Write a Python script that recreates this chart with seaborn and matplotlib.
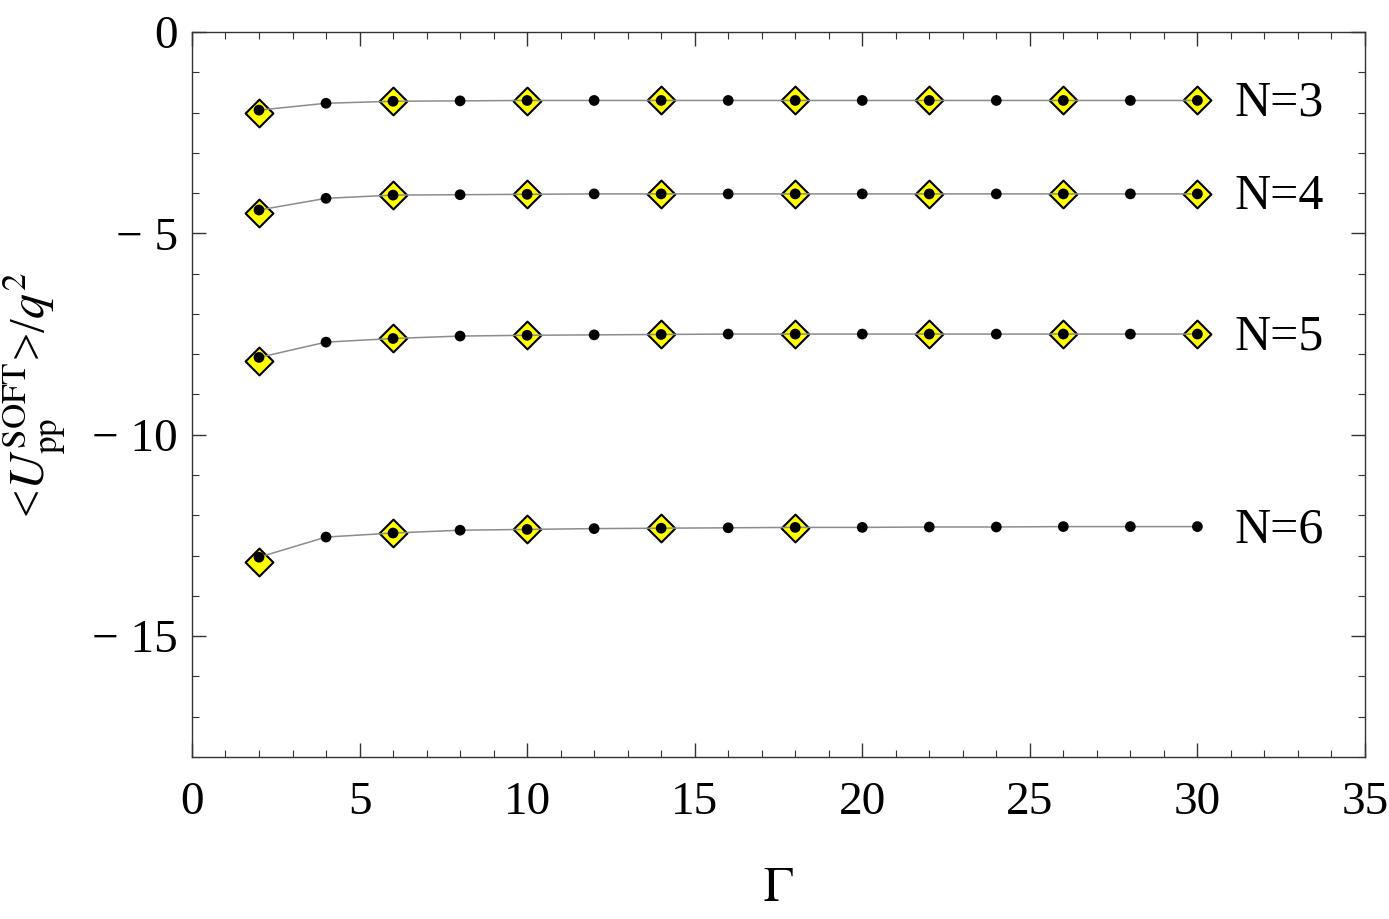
import numpy as np
import pandas as pd
import matplotlib
matplotlib.use("Agg")
import matplotlib.pyplot as plt
from matplotlib.ticker import MultipleLocator, FuncFormatter
import seaborn as sns

# Gamma values for the black dots (every 2) and the yellow diamonds (every 4)
gamma_dots = [2, 4, 6, 8, 10, 12, 14, 16, 18, 20, 22, 24, 26, 28, 30]
gamma_diam = [2, 6, 10, 14, 18, 22, 26, 30]
gamma_diam_n6 = [2, 6, 10, 14, 18]

# <U_pp^SOFT>/q^2
n3_dots = [-1.94, -1.77, -1.72, -1.71, -1.70, -1.70, -1.70, -1.70, -1.70, -1.70, -1.70, -1.70, -1.70, -1.70, -1.70]
n4_dots = [-4.42, -4.13, -4.05, -4.04, -4.03, -4.02, -4.02, -4.02, -4.02, -4.02, -4.02, -4.02, -4.02, -4.02, -4.02]
n5_dots = [-8.08, -7.70, -7.61, -7.55, -7.53, -7.52, -7.51, -7.50, -7.50, -7.50, -7.50, -7.50, -7.50, -7.50, -7.50]
n6_dots = [-13.04, -12.54, -12.44, -12.37, -12.35, -12.33, -12.32, -12.31, -12.30, -12.30, -12.29, -12.29, -12.28, -12.28, -12.28]

n3_diam = [-2.00, -1.72, -1.71, -1.70, -1.70, -1.70, -1.70, -1.70]
n4_diam = [-4.50, -4.05, -4.03, -4.02, -4.02, -4.02, -4.02, -4.02]
n5_diam = [-8.18, -7.61, -7.53, -7.51, -7.50, -7.50, -7.50, -7.50]
n6_diam = [-13.17, -12.45, -12.35, -12.32, -12.31]

labels = ["N=3", "N=4", "N=5", "N=6"]

dots = pd.concat([
    pd.DataFrame({"Gamma": gamma_dots, "U": v, "N": lab})
    for v, lab in zip([n3_dots, n4_dots, n5_dots, n6_dots], labels)
])
diam = pd.concat([
    pd.DataFrame({"Gamma": g, "U": v, "N": lab})
    for g, v, lab in zip([gamma_diam, gamma_diam, gamma_diam, gamma_diam_n6],
                         [n3_diam, n4_diam, n5_diam, n6_diam], labels)
])

sns.set_theme(style="ticks")
plt.rcParams["font.family"] = ["Liberation Serif", "DejaVu Serif"]
plt.rcParams["mathtext.fontset"] = "stix"
plt.rcParams["text.color"] = "black"
plt.rcParams["axes.labelcolor"] = "black"

fig = plt.figure(figsize=(13.89, 9.19), dpi=100)
ax = fig.add_axes([0.1382, 0.1763, 0.8445, 0.7889])

# yellow diamonds underneath
sns.scatterplot(data=diam, x="Gamma", y="U", marker="D", s=200, color="#ffff00",
                edgecolor="black", linewidth=1.5, ax=ax, zorder=2, legend=False)

# gray lines with black dots on top
for lab in labels:
    sub = dots[dots["N"] == lab]
    sns.lineplot(data=sub, x="Gamma", y="U", color="#8c8c8c", linewidth=1.1,
                 ax=ax, zorder=3, legend=False)
    sns.scatterplot(data=sub, x="Gamma", y="U", color="black", s=60,
                    edgecolor="none", ax=ax, zorder=4, legend=False)
    ax.text(31.1, sub["U"].iloc[-1] - 0.08, lab, fontsize=36, ha="left", va="center")

ax.set_xlim(0, 35)
ax.set_ylim(-18, 0)
ax.xaxis.set_major_locator(MultipleLocator(5))
ax.xaxis.set_minor_locator(MultipleLocator(1))
ax.yaxis.set_major_locator(MultipleLocator(5))
ax.yaxis.set_minor_locator(MultipleLocator(1))
ax.yaxis.set_major_formatter(FuncFormatter(
    lambda v, p: "\u2212 %d" % abs(v) if v < 0 else "%d" % v))
ax.tick_params(which="both", direction="in", top=True, right=True, color="#333333",
               labelcolor="black")
ax.tick_params(which="major", length=10, width=1.0, labelsize=34)
ax.tick_params(axis="x", which="major", pad=18)
ax.tick_params(axis="y", which="major", pad=10)
ax.tick_params(which="minor", length=5, width=0.8)
for sp in ax.spines.values():
    sp.set_color("#333333")
    sp.set_linewidth(1.0)

ax.set_xlabel(r"$\Gamma$", fontsize=36)
ax.xaxis.set_label_coords(0.5, -0.15)
ax.set_ylabel(r"<$U_{\rm pp}^{\rm SOFT}$>/$q^2$", fontsize=36)
ax.yaxis.set_label_coords(-0.106, 0.5)

fig.savefig("out.png", dpi=100)
